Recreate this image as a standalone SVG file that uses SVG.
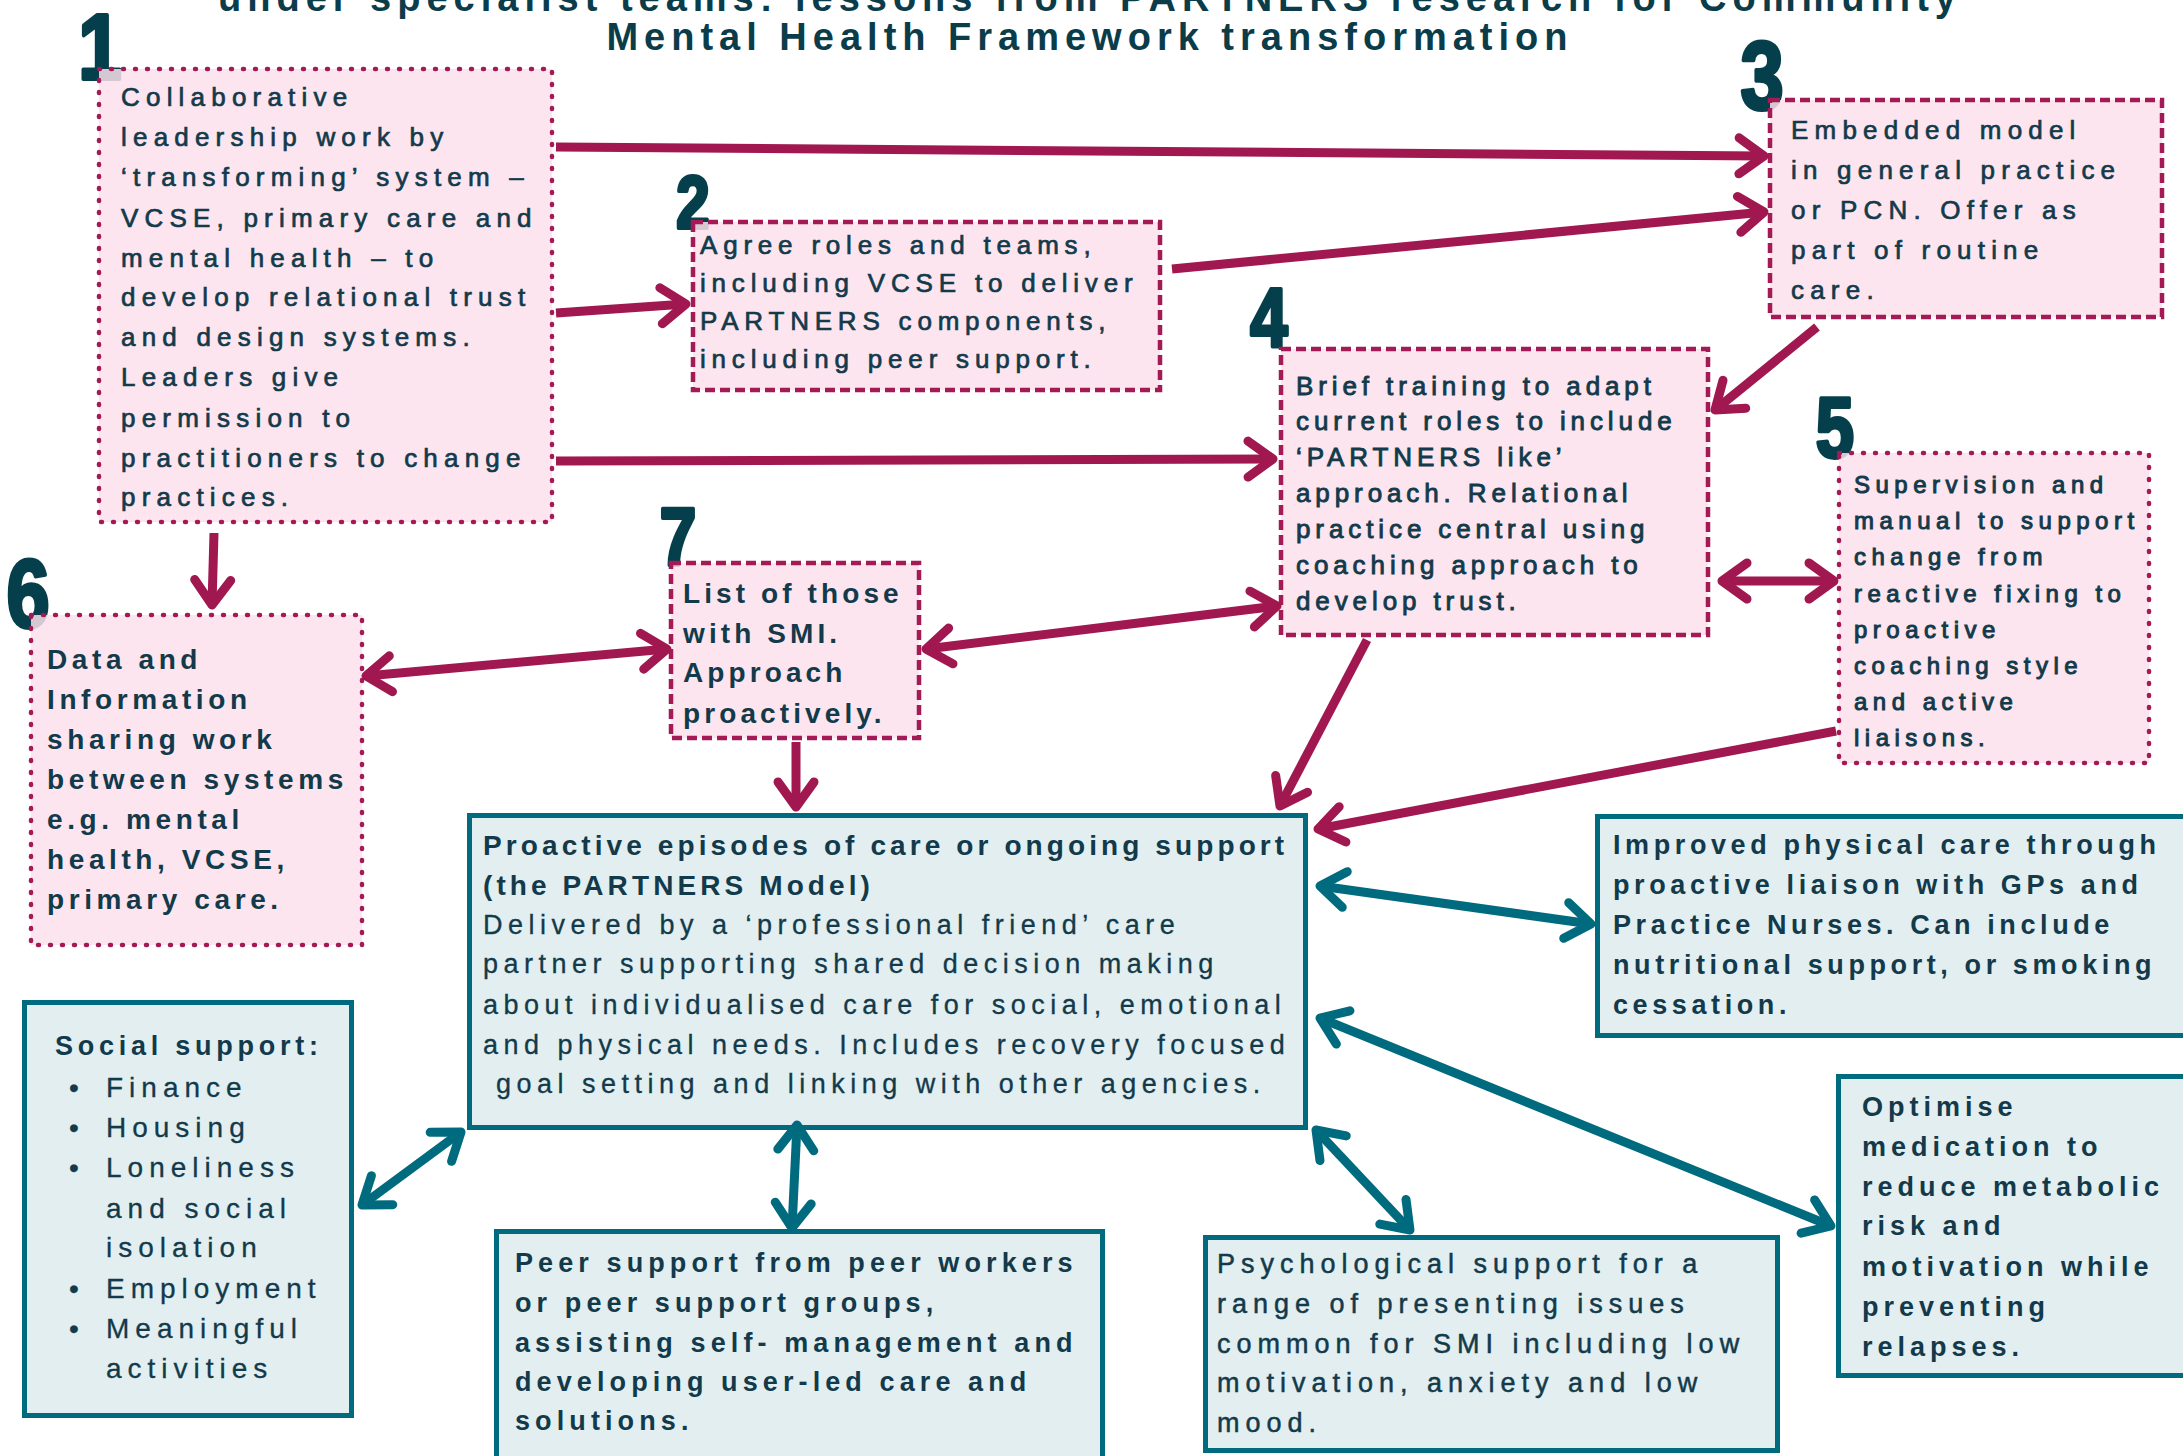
<svg xmlns="http://www.w3.org/2000/svg" width="2183" height="1456" viewBox="0 0 2183 1456">
  <style>
    .tx { font-family: "Liberation Sans", Arial, sans-serif; fill: #123a4b; }
    .md { stroke: #123a4b; stroke-width: 0.7; }
    .title { font-family: "Liberation Sans", Arial, sans-serif; font-weight: bold; font-size: 38px; letter-spacing: 6px; fill: #0b3c4a; text-anchor: middle; }
    .dg { font-family: "Liberation Sans", Arial, sans-serif; font-weight: bold; fill: #053f4c; stroke: #053f4c; stroke-width: 4; stroke-linejoin: round; text-anchor: middle; }
    .pink { fill: #fbe0eb; fill-opacity: 0.85; stroke: #a31a55; stroke-width: 4.5; }
    .dash { stroke-dasharray: 10 5; }
    .dot { stroke-dasharray: 1 11; stroke-linecap: round; }
    .teal { fill: #e2eef0; stroke: #006b7e; stroke-width: 5; }
    .b1 { font-size: 26px; letter-spacing: 6.2px; }
    .b2 { font-size: 26px; letter-spacing: 5.8px; }
    .b4 { font-size: 26px; letter-spacing: 4.9px; stroke: #123a4b; stroke-width: 0.9; }
    .b5 { font-size: 24px; letter-spacing: 5.5px; stroke: #123a4b; stroke-width: 1; }
    .b6 { font-size: 28px; font-weight: bold; letter-spacing: 4.6px; }
    .b7 { font-size: 28px; font-weight: bold; letter-spacing: 4.1px; }
    .cb { font-size: 28px; font-weight: bold; letter-spacing: 4.1px; }
    .cr { font-size: 27px; letter-spacing: 5.5px; stroke: #123a4b; stroke-width: 0.3; }
    .imp { font-size: 27px; font-weight: bold; letter-spacing: 4.6px; }
    .opt { font-size: 27px; font-weight: bold; letter-spacing: 5px; }
    .peer { font-size: 27px; font-weight: bold; letter-spacing: 5.1px; }
    .psy { font-size: 27px; letter-spacing: 6px; stroke: #123a4b; stroke-width: 0.5; }
    .soch { font-size: 27px; font-weight: bold; letter-spacing: 4.75px; }
    .soci { font-size: 28px; letter-spacing: 6px; stroke: #123a4b; stroke-width: 0.3; }
    .am { fill: none; stroke: #a0184f; stroke-width: 9; }
    .at { fill: none; stroke: #006b7e; stroke-width: 9; }
  </style>
  <defs>
    <marker id="hm" markerUnits="userSpaceOnUse" viewBox="-40 -30 50 60" refX="0" refY="0" markerWidth="50" markerHeight="60" orient="auto-start-reverse">
      <path d="M-25,-18 L0,0 L-25,18" fill="none" stroke="#a0184f" stroke-width="9" stroke-linecap="round" stroke-linejoin="round"/>
    </marker>
    <marker id="ht" markerUnits="userSpaceOnUse" viewBox="-40 -30 50 60" refX="0" refY="0" markerWidth="50" markerHeight="60" orient="auto-start-reverse">
      <path d="M-25,-18 L0,0 L-25,18" fill="none" stroke="#006b7e" stroke-width="9" stroke-linecap="round" stroke-linejoin="round"/>
    </marker>
  </defs>

  <rect width="2183" height="1456" fill="#ffffff"/>

  <!-- heading -->
  <g id="title">
    <text class="title" x="1090" y="11">under specialist teams: lessons from PARTNERS research for Community</text>
    <text class="title" x="1090" y="50">Mental Health Framework transformation</text>
  </g>

  <!-- 1: collaborative leadership -->
  <g id="node1">
    <text class="dg" transform="translate(100,79) scale(0.85,1)" font-size="92">1</text>
    <rect class="pink dot" x="99" y="69" width="453" height="453"/>
    <g class="tx md b1">
      <text x="121" y="106">Collaborative</text>
      <text x="121" y="146">leadership work by</text>
      <text x="121" y="186">‘transforming’ system –</text>
      <text x="121" y="227">VCSE, primary care and</text>
      <text x="121" y="267">mental health – to</text>
      <text x="121" y="306">develop relational trust</text>
      <text x="121" y="346">and design systems.</text>
      <text x="121" y="386">Leaders give</text>
      <text x="121" y="427">permission to</text>
      <text x="121" y="467">practitioners to change</text>
      <text x="121" y="506">practices.</text>
    </g>
  </g>

  <!-- 2: roles and teams -->
  <g id="node2">
    <text class="dg" transform="translate(693,228) scale(0.8,1)" font-size="75">2</text>
    <rect class="pink dash" x="693" y="222" width="467" height="168"/>
    <g class="tx md b2">
      <text x="700" y="254">Agree roles and teams,</text>
      <text x="700" y="292">including VCSE to deliver</text>
      <text x="700" y="330">PARTNERS components,</text>
      <text x="700" y="368">including peer support.</text>
    </g>
  </g>

  <!-- 3: embedded model -->
  <g id="node3">
    <text class="dg" transform="translate(1762,109) scale(0.8,1)" font-size="97">3</text>
    <rect class="pink dash" x="1770" y="100" width="392" height="217"/>
    <g class="tx md b1">
      <text x="1791" y="139">Embedded model</text>
      <text x="1791" y="179">in general practice</text>
      <text x="1791" y="219">or PCN. Offer as</text>
      <text x="1791" y="259">part of routine</text>
      <text x="1791" y="299">care.</text>
    </g>
  </g>

  <!-- 4: brief training -->
  <g id="node4">
    <text class="dg" transform="translate(1269,347) scale(0.8,1)" font-size="84">4</text>
    <rect class="pink dash" x="1281" y="349" width="427" height="286"/>
    <g class="tx b4">
      <text x="1296" y="395">Brief training to adapt</text>
      <text x="1296" y="430">current roles to include</text>
      <text x="1296" y="466">‘PARTNERS like’</text>
      <text x="1296" y="502">approach. Relational</text>
      <text x="1296" y="538">practice central using</text>
      <text x="1296" y="574">coaching approach to</text>
      <text x="1296" y="610">develop trust.</text>
    </g>
  </g>

  <!-- 5: supervision -->
  <g id="node5">
    <text class="dg" transform="translate(1835,457) scale(0.8,1)" font-size="86">5</text>
    <rect class="pink dot" x="1839" y="453" width="310" height="310"/>
    <g class="tx b5">
      <text x="1854" y="493">Supervision and</text>
      <text x="1854" y="529">manual to support</text>
      <text x="1854" y="565">change from</text>
      <text x="1854" y="602">reactive fixing to</text>
      <text x="1854" y="638">proactive</text>
      <text x="1854" y="674">coaching style</text>
      <text x="1854" y="710">and active</text>
      <text x="1854" y="746">liaisons.</text>
    </g>
  </g>

  <!-- 6: data sharing -->
  <g id="node6">
    <text class="dg" transform="translate(28,627) scale(0.8,1)" font-size="97">6</text>
    <rect class="pink dot" x="31" y="615" width="331" height="330"/>
    <g class="tx b6">
      <text x="47" y="669">Data and</text>
      <text x="47" y="709">Information</text>
      <text x="47" y="749">sharing work</text>
      <text x="47" y="789">between systems</text>
      <text x="47" y="829">e.g. mental</text>
      <text x="47" y="869">health, VCSE,</text>
      <text x="47" y="909">primary care.</text>
    </g>
  </g>

  <!-- 7: SMI list -->
  <g id="node7">
    <text class="dg" transform="translate(678,565) scale(0.8,1)" font-size="82">7</text>
    <rect class="pink dash" x="671" y="563" width="248" height="175"/>
    <g class="tx b7">
      <text x="683" y="603">List of those</text>
      <text x="683" y="643">with SMI.</text>
      <text x="683" y="682">Approach</text>
      <text x="683" y="723">proactively.</text>
    </g>
  </g>

  <!-- PARTNERS model -->
  <g id="model">
    <rect class="teal" x="469.5" y="815.5" width="836" height="312" stroke-width="7"/>
    <g class="tx cb">
      <text x="483" y="855">Proactive episodes of care or ongoing support</text>
      <text x="483" y="895">(the PARTNERS Model)</text>
    </g>
    <g class="tx cr">
      <text x="483" y="934">Delivered by a ‘professional friend’ care</text>
      <text x="483" y="973">partner supporting shared decision making</text>
      <text x="483" y="1014">about individualised care for social, emotional</text>
      <text x="483" y="1054">and physical needs. Includes recovery focused</text>
      <text x="496" y="1093">goal setting and linking with other agencies.</text>
    </g>
  </g>

  <!-- physical care -->
  <g id="physical">
    <rect class="teal" x="1597.5" y="816.5" width="600" height="219"/>
    <g class="tx imp">
      <text x="1613" y="854">Improved physical care through</text>
      <text x="1613" y="894">proactive liaison with GPs and</text>
      <text x="1613" y="934">Practice Nurses. Can include</text>
      <text x="1613" y="974">nutritional support, or smoking</text>
      <text x="1613" y="1014">cessation.</text>
    </g>
  </g>

  <!-- medication -->
  <g id="medication">
    <rect class="teal" x="1838.5" y="1076.5" width="360" height="299"/>
    <g class="tx opt">
      <text x="1862" y="1116">Optimise</text>
      <text x="1862" y="1156">medication to</text>
      <text x="1862" y="1196">reduce metabolic</text>
      <text x="1862" y="1235">risk and</text>
      <text x="1862" y="1276">motivation while</text>
      <text x="1862" y="1316">preventing</text>
      <text x="1862" y="1356">relapses.</text>
    </g>
  </g>

  <!-- social support -->
  <g id="social">
    <rect class="teal" x="24.5" y="1002.5" width="327" height="413"/>
    <text class="tx soch" x="55" y="1055">Social support:</text>
    <g class="tx soci">
      <text x="74" y="1097" text-anchor="middle" letter-spacing="0">•</text>
      <text x="106" y="1097">Finance</text>
      <text x="74" y="1137" text-anchor="middle" letter-spacing="0">•</text>
      <text x="106" y="1137">Housing</text>
      <text x="74" y="1177" text-anchor="middle" letter-spacing="0">•</text>
      <text x="106" y="1177">Loneliness</text>
      <text x="106" y="1218">and social</text>
      <text x="106" y="1257">isolation</text>
      <text x="74" y="1298" text-anchor="middle" letter-spacing="0">•</text>
      <text x="106" y="1298">Employment</text>
      <text x="74" y="1338" text-anchor="middle" letter-spacing="0">•</text>
      <text x="106" y="1338">Meaningful</text>
      <text x="106" y="1378">activities</text>
    </g>
  </g>

  <!-- peer support -->
  <g id="peer">
    <rect class="teal" x="496.5" y="1231.5" width="606" height="240"/>
    <g class="tx peer">
      <text x="515" y="1272">Peer support from peer workers</text>
      <text x="515" y="1312">or peer support groups,</text>
      <text x="515" y="1352">assisting self- management and</text>
      <text x="515" y="1391">developing user-led care and</text>
      <text x="515" y="1430">solutions.</text>
    </g>
  </g>

  <!-- psychological support -->
  <g id="psych">
    <rect class="teal" x="1205.5" y="1237.5" width="572" height="213"/>
    <g class="tx psy">
      <text x="1217" y="1273">Psychological support for a</text>
      <text x="1217" y="1313">range of presenting issues</text>
      <text x="1217" y="1353">common for SMI including low</text>
      <text x="1217" y="1392">motivation, anxiety and low</text>
      <text x="1217" y="1432">mood.</text>
    </g>
  </g>

  <!-- connectors -->
  <g id="connectors">
    <line class="am" x1="556" y1="147" x2="1764" y2="156" marker-end="url(#hm)"/>
    <line class="am" x1="556" y1="313" x2="686" y2="304" marker-end="url(#hm)"/>
    <line class="am" x1="556" y1="461" x2="1273" y2="459" marker-end="url(#hm)"/>
    <line class="am" x1="1172" y1="269" x2="1764" y2="212" marker-end="url(#hm)"/>
    <line class="am" x1="1817" y1="327" x2="1715" y2="410" marker-end="url(#hm)"/>
    <line class="am" x1="214" y1="533" x2="212" y2="605" marker-end="url(#hm)"/>
    <line class="am" x1="366" y1="676" x2="667" y2="649" marker-start="url(#hm)" marker-end="url(#hm)"/>
    <line class="am" x1="926" y1="649" x2="1277" y2="606" marker-start="url(#hm)" marker-end="url(#hm)"/>
    <line class="am" x1="1722" y1="581" x2="1834" y2="581" marker-start="url(#hm)" marker-end="url(#hm)"/>
    <line class="am" x1="796" y1="742" x2="796" y2="807" marker-end="url(#hm)"/>
    <line class="am" x1="1367" y1="640" x2="1280" y2="806" marker-end="url(#hm)"/>
    <line class="am" x1="1836" y1="731" x2="1318" y2="829" marker-end="url(#hm)"/>

    <line class="at" x1="362" y1="1205" x2="461" y2="1132" marker-start="url(#ht)" marker-end="url(#ht)"/>
    <line class="at" x1="797" y1="1125" x2="792" y2="1228" marker-start="url(#ht)" marker-end="url(#ht)"/>
    <line class="at" x1="1316" y1="1130" x2="1410" y2="1230" marker-start="url(#ht)" marker-end="url(#ht)"/>
    <line class="at" x1="1320" y1="886" x2="1591" y2="924" marker-start="url(#ht)" marker-end="url(#ht)"/>
    <line class="at" x1="1320" y1="1018" x2="1831" y2="1226" marker-start="url(#ht)" marker-end="url(#ht)"/>
  </g>
</svg>
